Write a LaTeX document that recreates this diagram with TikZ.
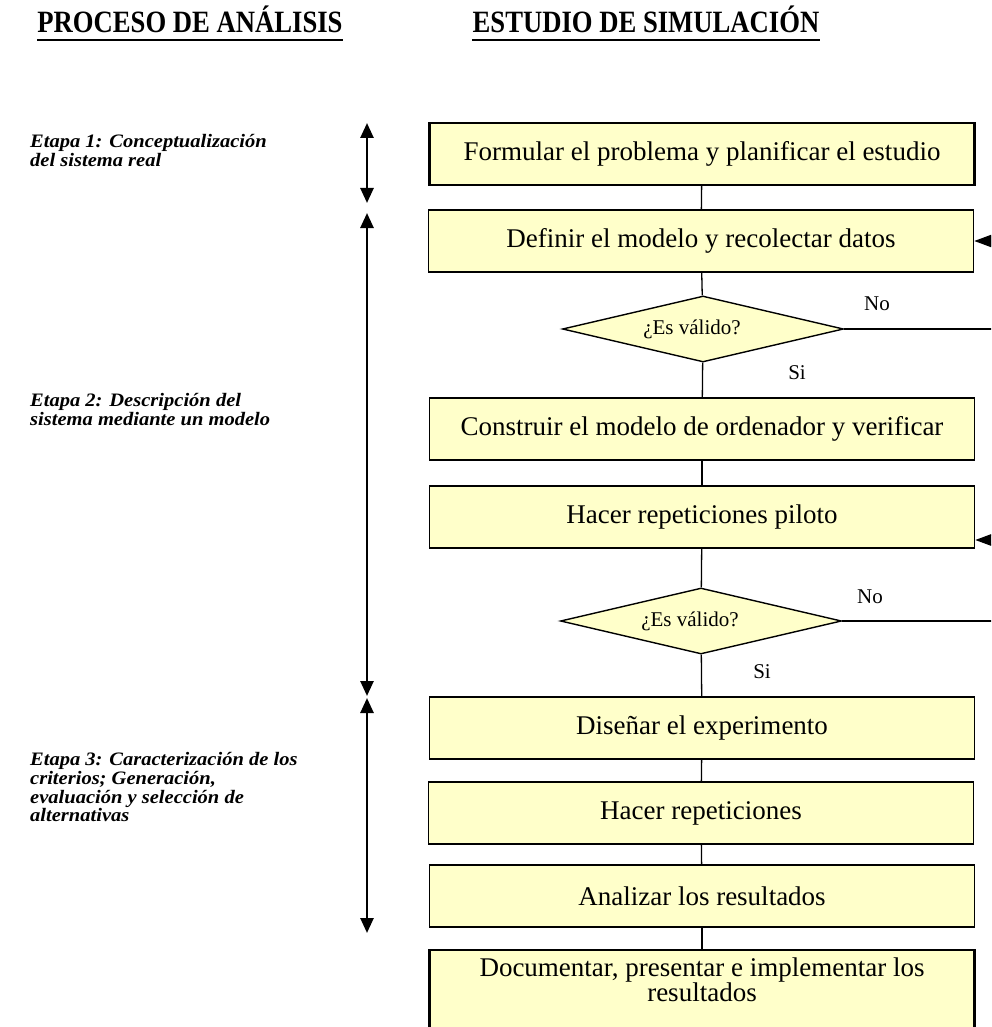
\documentclass[tikz,border=0pt]{standalone}
\usepackage{fontspec}
\setmainfont{Liberation Serif}
\newfontfamily\boxfont{Liberation Serif}[FakeStretch=1.0]
\newfontfamily\smallfont{Liberation Serif}[FakeStretch=1.0]
\newfontfamily\lblfont{Liberation Serif}[FakeStretch=1.08]
\newfontfamily\hdrfont{Liberation Serif}[FakeStretch=0.86]
\usetikzlibrary{arrows.meta,shapes.geometric}
\definecolor{boxyel}{RGB}{255,255,202}
\tikzset{
  stepbox/.style={draw, fill=boxyel, line width=1.6pt, minimum width=545pt, minimum height=62pt, inner sep=0pt,
    font=\boxfont\fontsize{27}{23}\selectfont},
  thickbox/.style={stepbox, line width=2.4pt},
  decision/.style={diamond, draw, fill=boxyel, line width=1.4pt, minimum width=281pt, minimum height=66pt,
    inner sep=0pt, shape aspect=4.26, font=\smallfont\fontsize{21}{22}\selectfont},
  link/.style={line width=1.3pt},
  fb/.style={line width=1.3pt, -{Triangle[length=18pt,width=13pt]}},
  dbl/.style={line width=2.6pt, {Triangle[length=15pt,width=13pt]}-{Triangle[length=15pt,width=13pt]}},
  lbl/.style={anchor=north west, inner sep=0pt, align=left, font=\lblfont\bfseries\itshape\fontsize{19}{18.8}\selectfont},
  hdr/.style={anchor=base, inner sep=0pt, font=\hdrfont\bfseries\fontsize{31}{31}\selectfont},
  yn/.style={inner sep=0pt, font=\smallfont\fontsize{21}{22}\selectfont}
}
\begin{document}
\begin{tikzpicture}[x=1pt,y=-1pt]
\useasboundingbox (0,0) rectangle (991,1027);
\clip (0,0) rectangle (991,1027);
\fill[white] (0,0) rectangle (991,1027);

% headers
\node[hdr] (h1) at (190,33) {PROCESO DE ANÁLISIS};
\node[hdr] (h2) at (646,33) {ESTUDIO DE SIMULACIÓN};
\draw[line width=2.6pt] ([yshift=-7pt]h1.base west) -- ([yshift=-7pt]h1.base east);
\draw[line width=2.6pt] ([yshift=-7pt]h2.base west) -- ([yshift=-7pt]h2.base east);

% left labels
\node[lbl] (e1) at (30,134) {Etapa 1: Conceptualización\\del sistema real};
\node[lbl] (e2) at (30,393) {Etapa 2: Descripción del\\sistema mediante un modelo};
\node[lbl] (e3) at (30,752) {Etapa 3: Caracterización de los\\criterios; Generación,\\evaluación y selección de\\alternativas};

% stage arrows
\coordinate (a1t) at (367,123);
\coordinate (a1b) at (367,203);
\coordinate (a2t) at (367,213);
\coordinate (a2b) at (367,696);
\coordinate (a3t) at (367,698);
\coordinate (a3b) at (367,933);
\draw[dbl] (a1t) -- (a1b);
\draw[dbl] (a2t) -- (a2b);
\draw[dbl] (a3t) -- (a3b);

% flow
\node[thickbox] (b1) at (702,154) {Formular el problema y planificar el estudio};
\node[stepbox] (b2) at (701,241) {Definir el modelo y recolectar datos};
\node[decision] (d1) at (703,329) {¿Es válido?\kern22pt};
\node[stepbox] (b3) at (702,429) {Construir el modelo de ordenador y verificar};
\node[stepbox] (b4) at (702,517) {Hacer repeticiones piloto};
\node[decision] (d2) at (701,621) {¿Es válido?\kern22pt};
\node[stepbox] (b5) at (702,728) {Diseñar el experimento};
\node[stepbox] (b6) at (701,813) {Hacer repeticiones};
\node[stepbox] (b7) at (702,896) {Analizar los resultados};
\node[thickbox, anchor=north, minimum height=110pt] (b8) at (702,949) {};
\node[inner sep=0pt, align=center, font=\boxfont\fontsize{27}{23}\selectfont] (b8t) at (702,980)
  {Documentar, presentar e implementar los\\resultados};

\draw[link] (b1) -- (b2);
\draw[link] (b2) -- (d1);
\draw[link] (d1) -- (b3);
\draw[link] (b3) -- (b4);
\draw[link] (b4) -- (d2);
\draw[link] (d2) -- (b5);
\draw[link] (b5) -- (b6);
\draw[link] (b6) -- (b7);
\draw[link] (b7) -- (b8);

% feedback loops
\coordinate (r1) at (995,329);
\coordinate (r2) at (995,241);
\coordinate (r3) at (995,621);
\coordinate (r4) at (995,540);
\draw[link] (d1.east) -- (r1);
\draw[fb] (r2) -- (r2 -| b2.east);
\draw[link] (d2.east) -- (r3);
\draw[fb] (r4) -- (r4 -| b4.east);

\node[yn] (no1) at (877,304) {No};
\node[yn] (si1) at (797,373) {Si};
\node[yn] (no2) at (870,597) {No};
\node[yn] (si2) at (762,672) {Si};
\end{tikzpicture}
\end{document}
